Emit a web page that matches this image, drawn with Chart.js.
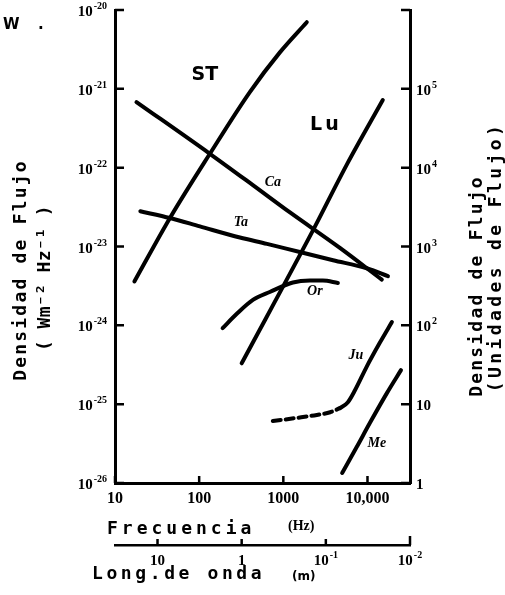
<!DOCTYPE html>
<html>
<head>
<meta charset="utf-8">
<script src="https://cdn.jsdelivr.net/npm/chart.js@4.4.0/dist/chart.umd.min.js"></script>
<style>
  html, body { margin: 0; padding: 0; background: #fff; }
</style>
</head>
<body>
<canvas id="chart" width="505" height="595"></canvas>
<script>
// tick values and labels (base + exponent)
const freqTicks = [10, 100, 1000, 10000];
const freqLabels = ['10', '100', '1000', '10,000'];
const fluxTicks = [1e-26, 1e-25, 1e-24, 1e-23, 1e-22, 1e-21, 1e-20];
const fluxBase = ['10', '10', '10', '10', '10', '10', '10'];
const fluxExp = ['-26', '-25', '-24', '-23', '-22', '-21', '-20'];
const unitTicks = [1, 10, 100, 1000, 1e4, 1e5, 1e6];
const unitBase = ['1', '10', '10', '10', '10', '10', ''];
const unitExp = ['', '', '2', '3', '4', '5', ''];
const waveTicks = [10, 1, 0.1, 0.01];
const waveBase = ['10', '1', '10', '10'];
const waveExp = ['', '', '-1', '-2'];
const waveK = 320; // long. de onda = waveK / frecuencia

// curves (Hz, W m-2 Hz-1)
const stFreq = [17, 45, 134, 400, 910, 1900];
const stFlux = [3.6e-24, 2.3e-23, 1.5e-22, 9.1e-22, 2.9e-21, 7.0e-21];
const caFreq = [18, 134, 435, 1200, 4700, 14800];
const caFlux = [6.8e-22, 1.5e-22, 6.0e-23, 2.7e-23, 9.6e-24, 3.8e-24];
const taFreq = [20, 45, 102, 305, 640, 1570, 3900, 9800, 17500];
const taFlux = [2.8e-23, 2.3e-23, 1.8e-23, 1.3e-23, 1.08e-23, 8.5e-24, 6.7e-24, 5.3e-24, 4.2e-24];
const luFreq = [320, 2250, 5700, 15200];
const luFlux = [3.3e-25, 1.6e-23, 1.1e-22, 7.2e-22];
const orFreq = [190, 280, 435, 690, 1300, 2070, 2950, 4450];
const orFlux = [9.2e-25, 1.4e-24, 2.1e-24, 2.65e-24, 3.5e-24, 3.7e-24, 3.7e-24, 3.45e-24];
const juDashFreq = [750, 1450, 2500, 3600, 4700];
const juDashFlux = [6.1e-26, 6.7e-26, 7.3e-26, 7.9e-26, 8.9e-26];
const juFreq = [4700, 5850, 7100, 9800, 14000, 19500];
const juFlux = [8.9e-26, 1.06e-25, 1.5e-25, 3.0e-25, 6.0e-25, 1.1e-24];
const meFreq = [5000, 7500, 10700, 17000, 25000];
const meFlux = [1.34e-26, 2.9e-26, 5.8e-26, 1.38e-25, 2.7e-25];

// curve names, anchored in data units
const nameText = ['ST', 'Lu', 'Ca', 'Ta', 'Or', 'Ju', 'Me'];
const nameFreq = [117, 3200, 750, 313, 2370, 7300, 12900];
const nameFlux = [1.5e-21, 3.5e-22, 6.6e-23, 2.0e-23, 2.7e-24, 4.2e-25, 3.2e-26];

const baseFont = 'bold 15px "Liberation Serif"';
const expFont = 'bold 10px "Liberation Serif"';

function pts(f, d) {
    return f.map((v, i) => ({ x: v, y: d[i] }));
}

function curve(f, d, dash) {
    return {
        data: pts(f, d),
        showLine: true,
        borderColor: '#000',
        borderWidth: 4,
        borderDash: dash || [],
        borderCapStyle: 'round',
        borderJoinStyle: 'round',
        pointRadius: 0,
        cubicInterpolationMode: 'monotone'
    };
}

function fixTicks(values) {
    return scale => { scale.ticks = values.map(v => ({ value: v })); };
}

// "10" with a small raised exponent; y is the vertical middle of the base
function drawPow(ctx, base, exp, x, y, align) {
    ctx.font = baseFont;
    let wb = ctx.measureText(base).width;
    ctx.font = expFont;
    let we = exp ? ctx.measureText(exp).width + 1 : 0;
    let w = wb + we;
    let x0 = align === 'right' ? x - w : align === 'center' ? x - w / 2 : x;
    ctx.textAlign = 'left';
    ctx.textBaseline = 'alphabetic';
    ctx.font = baseFont;
    ctx.fillText(base, x0, y + 5);
    if (exp) {
        ctx.font = expFont;
        ctx.fillText(exp, x0 + wb + 1, y - 2);
    }
}

// inward tick marks, tick labels, names and axis titles
const decor = {
    id: 'decor',
    afterDraw(chart) {
        const { ctx, chartArea: a, scales } = chart;
        ctx.save();
        ctx.strokeStyle = '#000';
        ctx.fillStyle = '#000';
        ctx.lineWidth = 2.5;
        ctx.beginPath();
        fluxTicks.forEach(v => {
            let py = scales.y.getPixelForValue(v);
            ctx.moveTo(a.left, py); ctx.lineTo(a.left + 9, py);
        });
        unitTicks.forEach(v => {
            let py = scales.y2.getPixelForValue(v);
            ctx.moveTo(a.right, py); ctx.lineTo(a.right - 9, py);
        });
        freqTicks.forEach(v => {
            let px = scales.x.getPixelForValue(v);
            ctx.moveTo(px, a.bottom); ctx.lineTo(px, a.bottom - 7);
        });
        let wy = scales.x2.top;
        waveTicks.forEach(v => {
            let px = scales.x2.getPixelForValue(v);
            ctx.moveTo(px, wy); ctx.lineTo(px, wy - (v === 0.01 ? 9 : 6));
        });
        ctx.stroke();

        // tick labels with exponents
        fluxTicks.forEach((v, i) => {
            drawPow(ctx, fluxBase[i], fluxExp[i], a.left - 8, scales.y.getPixelForValue(v) + 1, 'right');
        });
        unitTicks.forEach((v, i) => {
            drawPow(ctx, unitBase[i], unitExp[i], a.right + 6, scales.y2.getPixelForValue(v) + 1, 'left');
        });
        waveTicks.forEach((v, i) => {
            drawPow(ctx, waveBase[i], waveExp[i], scales.x2.getPixelForValue(v), wy + 15, 'center');
        });

        // curve names
        ctx.textAlign = 'center';
        ctx.textBaseline = 'middle';
        nameText.forEach((t, i) => {
            let px = scales.x.getPixelForValue(nameFreq[i]);
            let py = scales.y.getPixelForValue(nameFlux[i]);
            if (t === 'ST' || t === 'Lu') {
                ctx.font = 'bold 19px "DejaVu Sans"';
                ctx.letterSpacing = t === 'Lu' ? '3px' : '0px';
            } else {
                ctx.font = 'italic bold 14px "Liberation Serif"';
                ctx.letterSpacing = '0px';
            }
            ctx.fillText(t, px, py);
        });

        // titles
        ctx.font = 'bold 18px "DejaVu Sans Mono"';
        ctx.textAlign = 'left';
        ctx.textBaseline = 'alphabetic';
        ctx.letterSpacing = '4px';
        ctx.fillText('Frecuencia', 107, 534);
        ctx.letterSpacing = '3.6px';
        ctx.fillText('Long.de onda', 92, 579);
        ctx.letterSpacing = '0px';
        ctx.font = 'bold 14px "Liberation Serif"';
        ctx.fillText('(Hz)', 288, 530);
        ctx.font = 'bold 12px "DejaVu Sans"';
        ctx.fillText('(m)', 292, 580);
        ctx.font = 'bold 15px "DejaVu Sans"';
        ctx.fillText('W', 3, 29);
        ctx.fillText('.', 38, 29);

        ctx.font = 'bold 18px "DejaVu Sans Mono"';
        ctx.textAlign = 'center';
        ctx.textBaseline = 'middle';
        const side = [
            ['Densidad de Flujo', 21, 270, '2.2px'],
            ['( Wm⁻² Hz⁻¹ )', 45, 278, '0.4px'],
            ['Densidad de Flujo', 477, 286, '2.2px'],
            ['(Unidades de Flujo)', 496, 257, '3.4px']
        ];
        side.forEach(s => {
            ctx.save();
            ctx.translate(s[1], s[2]);
            ctx.rotate(-Math.PI / 2);
            ctx.letterSpacing = s[3];
            ctx.fillText(s[0], 0, 0);
            ctx.restore();
        });
        ctx.restore();
    }
};

const axisBorder = { display: true, color: '#000', width: 3 };
const noGrid = { display: true, drawOnChartArea: false, drawTicks: false };

new Chart(document.getElementById('chart'), {
    type: 'scatter',
    data: {
        datasets: [
            curve(stFreq, stFlux),
            curve(caFreq, caFlux),
            curve(taFreq, taFlux),
            curve(luFreq, luFlux),
            curve(orFreq, orFlux),
            curve(juDashFreq, juDashFlux, [8, 5]),
            curve(juFreq, juFlux),
            curve(meFreq, meFlux)
        ]
    },
    options: {
        responsive: false,
        animation: false,
        devicePixelRatio: 1,
        layout: { padding: { top: 10, left: 0, right: 0, bottom: 0 } },
        plugins: { legend: { display: false }, tooltip: { enabled: false } },
        scales: {
            x: {
                type: 'logarithmic', position: 'bottom', weight: 0,
                min: 10, max: 32000,
                afterBuildTicks: fixTicks(freqTicks),
                afterFit: s => { s.height = 62; },
                grid: noGrid, border: axisBorder,
                ticks: {
                    color: '#000', font: { family: '"Liberation Serif"', size: 16, weight: 'bold' },
                    padding: 6, maxRotation: 0, autoSkip: false,
                    callback: (v, i) => freqLabels[i]
                }
            },
            x2: {
                type: 'logarithmic', position: 'bottom', weight: 1, reverse: true,
                min: waveK / 32000, max: waveK / 10,
                afterBuildTicks: fixTicks(waveTicks),
                afterFit: s => { s.height = 50; },
                grid: noGrid, border: { display: true, color: '#000', width: 2.5 },
                ticks: { display: false }
            },
            y: {
                type: 'logarithmic', position: 'left',
                min: 1e-26, max: 1e-20,
                afterBuildTicks: fixTicks(fluxTicks),
                afterFit: s => { s.width = 115; },
                grid: noGrid, border: axisBorder,
                ticks: { display: false }
            },
            y2: {
                type: 'logarithmic', position: 'right',
                min: 1, max: 1e6,
                afterBuildTicks: fixTicks(unitTicks),
                afterFit: s => { s.width = 95; },
                grid: noGrid, border: axisBorder,
                ticks: { display: false }
            }
        }
    },
    plugins: [decor]
});
</script>
</body>
</html>
